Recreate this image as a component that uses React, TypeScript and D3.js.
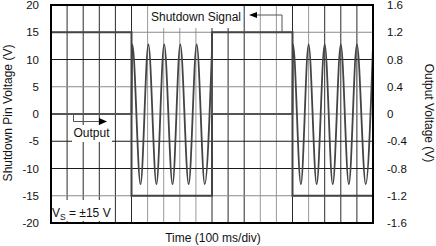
import React from "react";
import * as d3 from "d3";

const W = 436;
const H = 246;

// grid / ticks
const timeDivs = d3.range(0, 21);
const darkVDivs = [1, 2, 3, 4, 5, 10, 11, 12, 15, 17, 18, 19];
const leftTicks = [-20, -15, -10, -5, 0, 5, 10, 15, 20];
const darkHLines = [10, -5, -10];
const rightTicks = [-1.6, -1.2, -0.8, -0.4, 0, 0.4, 0.8, 1.2, 1.6];
const rightTickLabels = ["-1.6", "-1.2", "-0.8", "-0.4", "0", "0.4", "0.8", "1.2", "1.6"];

// shutdown signal (left axis, V) vs time (div)
const shutdownT = [0, 5, 5, 10, 10, 15, 15, 20];
const shutdownV = [15, 15, -15, -15, 15, 15, -15, -15];

// output (right axis, V) vs time (div)
const burst1T = [5, 5.05, 5.56, 6.05, 6.55, 7.03, 7.55, 8.03, 8.55, 9.05, 9.55, 10];
const burst1V = [0, 1.02, -1.03, 1.02, -1.03, 1.02, -1.03, 1.02, -1.03, 1.02, -1.03, 0.95];
const burst2T = [15, 15.03, 15.52, 16, 16.5, 17, 17.5, 18, 18.5, 19, 19.55, 20];
const burst2V = [0, 1.02, -1.03, 1.02, -1.03, 1.02, -1.03, 1.02, -1.03, 1.02, -1.03, 1.0];
const idleT = [0, 5, 10, 10, 15];
const idleV = [0, 0, 0.95, 0, 0];

const FONT = "'Liberation Sans', Arial, sans-serif";

export default function App() {
  const L = 51, R = 373, T = 5, B = 223;
  const x = d3.scaleLinear().domain([0, 20]).range([L, R]);
  const yL = d3.scaleLinear().domain([-20, 20]).range([B, T]);
  const yR = d3.scaleLinear().domain([-1.6, 1.6]).range([B, T]);

  const shutPath = d3
    .line<number>()
    .x((_, i) => x(shutdownT[i]))
    .y((d) => yL(d))(shutdownV) as string;

  const burstLine = (ts: number[]) =>
    d3
      .line<number>()
      .x((_, i) => x(ts[i]))
      .y((d) => yR(d))
      .curve(d3.curveMonotoneX);
  const b1 = burstLine(burst1T)(burst1V) as string;
  const b2 = burstLine(burst2T)(burst2V) as string;
  const idle1 = d3.line<number>().x((_, i) => x(idleT[i])).y((d) => yR(d))(idleV.slice(0, 2)) as string;
  const idle2 = d3
    .line<number>()
    .x((_, i) => x(idleT[i + 2]))
    .y((d) => yR(d))(idleV.slice(2)) as string;

  return (
    <svg
      width={W}
      height={H}
      style={{ position: "absolute", left: 0, top: 0, background: "#fff" }}
      fontFamily={FONT}
    >
      <rect x={0} y={0} width={W} height={H} fill="#fff" />
      {/* grid */}
      {timeDivs.slice(1, 20).map((d) => (
        <line
          key={"v" + d}
          x1={x(d)}
          x2={x(d)}
          y1={T}
          y2={B}
          stroke={darkVDivs.includes(d) ? "#2a2a2a" : "#999"}
          strokeWidth={1}
        />
      ))}
      {leftTicks.slice(1, 8).map((v) => (
        <line
          key={"h" + v}
          x1={L}
          x2={R}
          y1={yL(v)}
          y2={yL(v)}
          stroke={darkHLines.includes(v) ? "#1a1a1a" : "#8a8a8a"}
          strokeWidth={1.2}
        />
      ))}
      {/* label boxes */}
      <rect x={149} y={6} width={94} height={22} fill="#fff" />
      <rect x={72} y={125} width={40} height={17} fill="#fff" />
      <rect x={52} y={200} width={61} height={21} fill="#fff" />
      {/* data */}
      <path d={shutPath} fill="none" stroke="#444" strokeWidth={2} />
      <path d={idle1} fill="none" stroke="#555" strokeWidth={2} />
      <path d={idle2} fill="none" stroke="#555" strokeWidth={2} />
      <path d={b1} fill="none" stroke="#444" strokeWidth={1.8} />
      <path d={b2} fill="none" stroke="#444" strokeWidth={1.8} />
      {/* border */}
      <rect x={L} y={T} width={R - L} height={B - T} fill="none" stroke="#000" strokeWidth={2} />
      {/* left ticks */}
      {leftTicks.map((v) => (
        <text key={"lt" + v} x={39} y={yL(v)} dy="0.35em" textAnchor="end" fontSize={11.5} fill="#111">
          {v}
        </text>
      ))}
      {rightTicks.map((v, i) => (
        <text key={"rt" + v} x={387} y={yR(v)} dy="0.35em" textAnchor="start" fontSize={11.5} fill="#111">
          {rightTickLabels[i]}
        </text>
      ))}
      {/* axis titles */}
      <text x={213} y={242} textAnchor="middle" fontSize={12} fill="#111">
        Time (100 ms/div)
      </text>
      <text transform="translate(12,113) rotate(-90)" textAnchor="middle" fontSize={12} fill="#111">
        Shutdown Pin Voltage (V)
      </text>
      <text transform="translate(425,113) rotate(90)" textAnchor="middle" fontSize={12} fill="#111">
        Output Voltage (V)
      </text>
      {/* annotations */}
      <text x={196} y={21} textAnchor="middle" fontSize={12} fill="#111">
        Shutdown Signal
      </text>
      <polyline points="256,15 282,15 282,32" fill="none" stroke="#555" strokeWidth={1} />
      <polygon points="249,15 257,12 257,18" fill="#000" />
      <polyline points="73.5,113 73.5,121.5 100,121.5" fill="none" stroke="#555" strokeWidth={1} />
      <polygon points="107,121.5 99,118 99,125" fill="#000" />
      <text x={91.5} y={137} textAnchor="middle" fontSize={12} fill="#111">
        Output
      </text>
      <text x={52} y={217} fontSize={12} fill="#111">
        V<tspan fontSize={8.5} dy={2.5}>S</tspan>
        <tspan dy={-2.5}> = ±15 V</tspan>
      </text>
    </svg>
  );
}
